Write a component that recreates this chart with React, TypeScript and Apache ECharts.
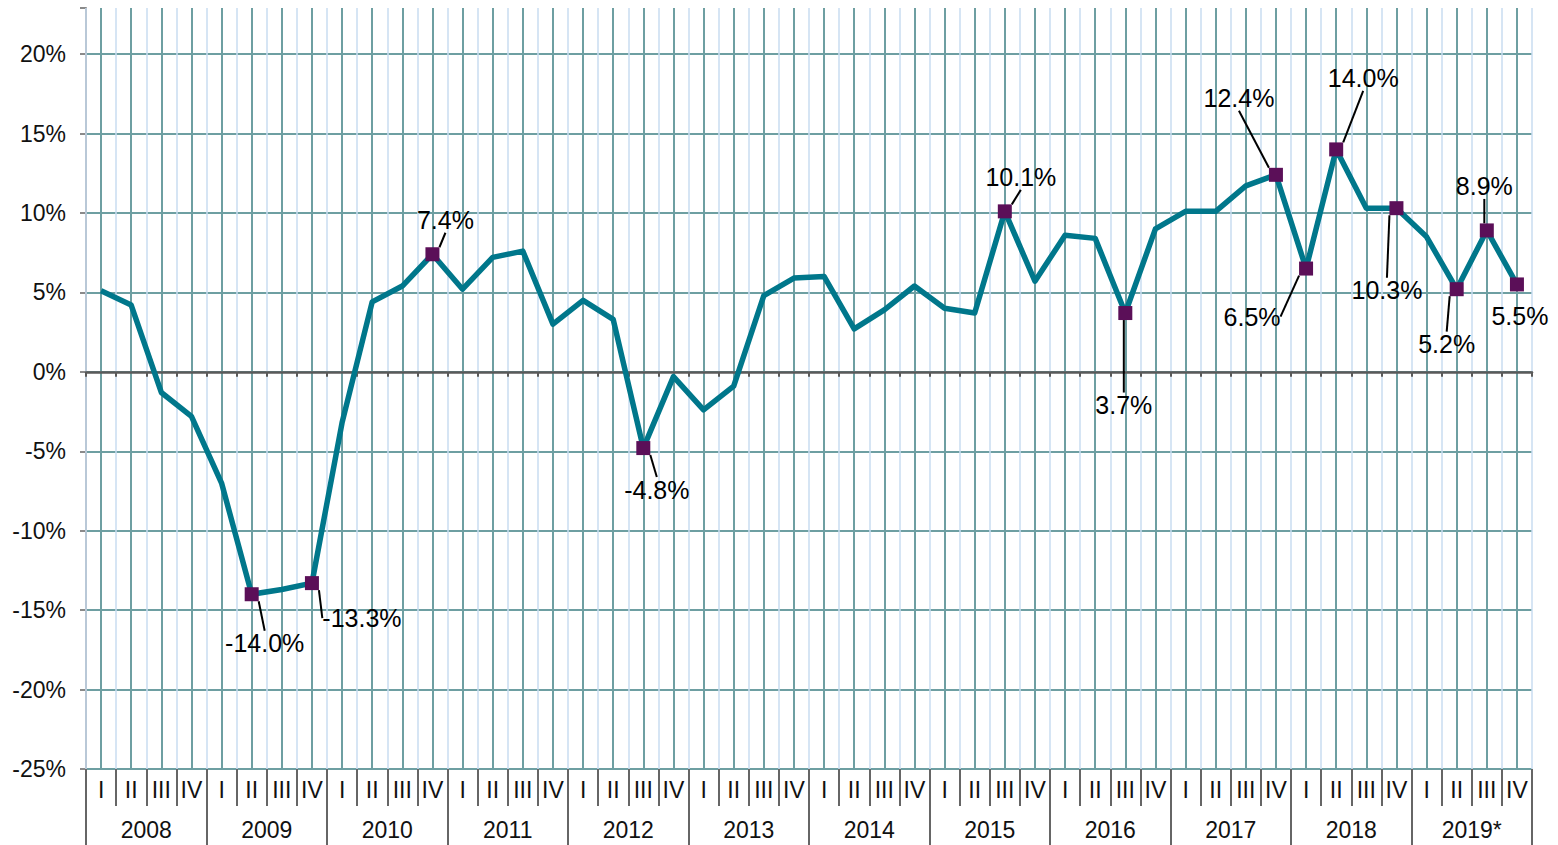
import React, { useEffect, useRef } from "react";
import * as echarts from "echarts";

const years = ["2008", "2009", "2010", "2011", "2012", "2013", "2014", "2015", "2016", "2017", "2018", "2019*"];
const quarters = ["I", "II", "III", "IV"];
const growth = [
  5.1, 4.2, -1.3, -2.8,
  -7.0, -14.0, -13.7, -13.3,
  -3.2, 4.4, 5.4, 7.4,
  5.2, 7.2, 7.6, 3.0,
  4.5, 3.3, -4.8, -0.3,
  -2.4, -0.9, 4.8, 5.9,
  6.0, 2.7, 3.9, 5.4,
  4.0, 3.7, 10.1, 5.7,
  8.6, 8.4, 3.7, 9.0,
  10.1, 10.1, 11.7, 12.4,
  6.5, 14.0, 10.3, 10.3,
  8.5, 5.2, 8.9, 5.5,
];
const highlighted = [5, 7, 11, 18, 30, 34, 39, 40, 41, 43, 45, 46, 47];
const yTicks = [-25, -20, -15, -10, -5, 0, 5, 10, 15, 20];

// label placement (pixel offsets from marker)
const labelOffsets: number[][] = [
  [13, 49], [50, 35], [13, -34], [13.5, 41.5], [16, -34], [-1.5, 92],
  [-37, -76.5], [-54, 48], [27, -71], [-9.5, 82], [-10, 55], [-2.5, -44], [3, 32],
];

const FONT = "'Liberation Sans', Arial, Helvetica, sans-serif";

export default function App() {
  const ref = useRef<HTMLDivElement>(null);
  useEffect(() => {
    document.body.style.margin = "0";
    if (!ref.current) return;
    const chart = echarts.init(ref.current, undefined, { renderer: "svg" });
    const quarterKeys: string[] = [];
    const quarterNames: string[] = [];
    years.forEach((y) => quarters.forEach((q) => { quarterKeys.push(y + " " + q); quarterNames.push(q); }));
    const halfSteps = Array.from({ length: quarterKeys.length * 2 + 1 }, (_, i) => String(i));
    const teal = "#6e9fa2";
    const splitColors = yTicks.map(() => teal).concat(["rgba(0,0,0,0)"]);

    chart.setOption({
      animation: false,
      grid: { left: 86, right: 26, top: 8, bottom: 76, containLabel: false },
      xAxis: [
        {
          type: "category",
          data: quarterKeys,
          boundaryGap: true,
          position: "bottom",
          axisLine: { onZero: true, lineStyle: { color: "#5a5a5a", width: 2.5 } },
          axisTick: { show: true, interval: 0, length: 5, lineStyle: { color: "#5a5a5a", width: 2 } },
          axisLabel: { show: false },
          splitLine: { show: true, interval: 0, lineStyle: { color: "#c9dcf0", width: 1.5 } },
          z: 3,
        },
        {
          type: "category",
          data: halfSteps,
          boundaryGap: false,
          position: "bottom",
          axisLine: { show: false, onZero: false },
          axisTick: { show: false },
          axisLabel: { show: false },
          splitLine: {
            show: true,
            interval: (i: number) => i % 2 === 1,
            lineStyle: { color: teal, width: 2 },
          },
        },
        {
          type: "category",
          data: quarterNames,
          boundaryGap: true,
          position: "bottom",
          axisLine: { show: false, onZero: false },
          axisTick: { show: true, interval: 0, length: 37, lineStyle: { color: "#666", width: 2 } },
          axisLabel: { show: true, interval: 0, margin: 9, fontSize: 23, color: "#111", fontFamily: FONT },
          splitLine: { show: false },
        },
        {
          type: "category",
          data: years,
          boundaryGap: true,
          position: "bottom",
          axisLine: { show: false, onZero: false },
          axisTick: { show: true, interval: 0, length: 76, lineStyle: { color: "#666", width: 2 } },
          axisLabel: { show: true, interval: 0, margin: 49, fontSize: 23, color: "#111", fontFamily: FONT },
          splitLine: { show: false },
        },
      ],
      yAxis: {
        type: "value",
        min: -25,
        max: 22.9,
        interval: 5,
        axisLine: { show: true, lineStyle: { color: "#8a8a8a", width: 2 } },
        axisTick: { show: true, length: 6, lineStyle: { color: "#8a8a8a", width: 2 } },
        axisLabel: {
          margin: 20,
          fontSize: 23,
          color: "#111",
          fontFamily: FONT,
          formatter: (v: number) => (yTicks.indexOf(v) >= 0 ? v + "%" : ""),
        },
        splitLine: { show: true, lineStyle: { color: splitColors, width: 2 } },
      },
      series: [
        {
          type: "line",
          xAxisIndex: 0,
          data: growth,
          showSymbol: false,
          symbol: "none",
          lineStyle: { color: "#00778b", width: 5.5, join: "round" },
          z: 5,
        },
        {
          type: "scatter",
          xAxisIndex: 0,
          symbol: "rect",
          symbolSize: 14,
          itemStyle: { color: "#5b0f58", opacity: 1 },
          emphasis: { disabled: true },
          z: 6,
          data: highlighted.map((i, k) => ({
            value: [i, growth[i]],
            labelLine: { show: k !== highlighted.length - 1 },
          })),
          label: {
            show: true,
            position: "inside",
            fontSize: 25,
            color: "#000",
            textBorderWidth: 0,
            fontFamily: FONT,
            formatter: (p: any) => p.value[1].toFixed(1) + "%",
          },
          labelLine: { show: true, lineStyle: { color: "#000", width: 2, opacity: 1 } },
          labelLayout: (p: any) => ({ dx: labelOffsets[p.dataIndex][0], dy: labelOffsets[p.dataIndex][1] }),
        },
      ],
    });
    return () => chart.dispose();
  }, []);
  return <div ref={ref} style={{ width: 1558, height: 845 }} />;
}
